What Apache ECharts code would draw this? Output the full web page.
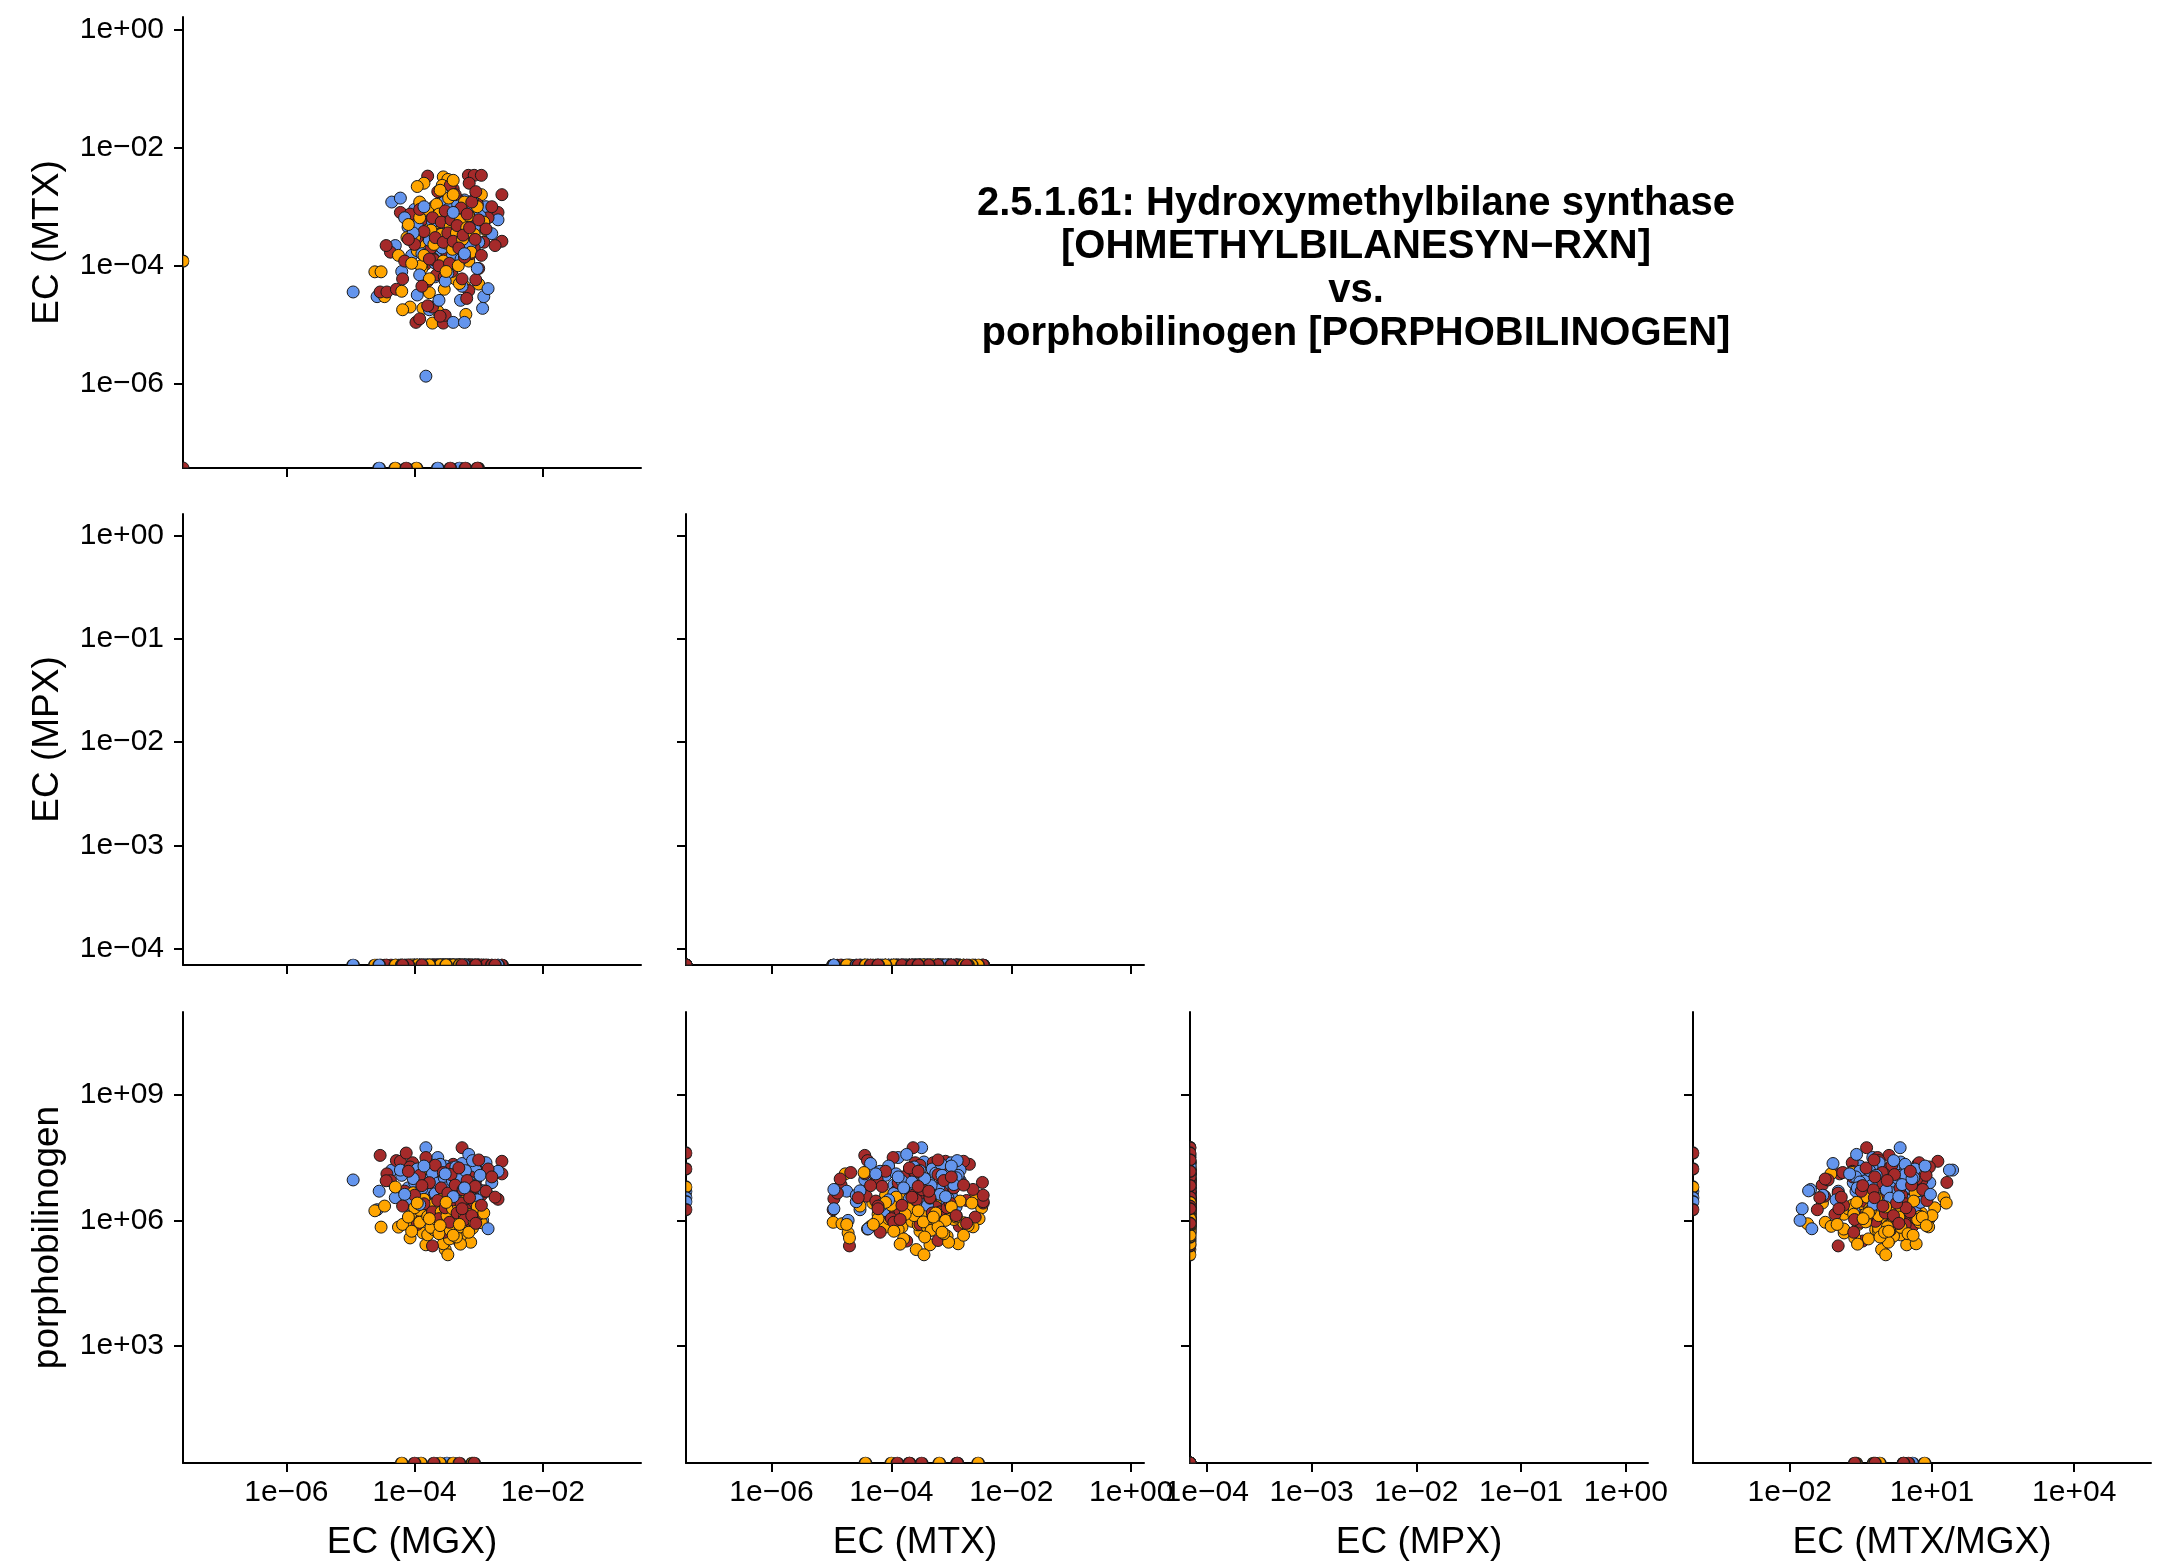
<!DOCTYPE html>
<html><head><meta charset="utf-8">
<script src="https://cdn.jsdelivr.net/npm/echarts@6/dist/echarts.min.js"></script>
<style>html,body{margin:0;padding:0;background:#fff}#c{width:2161px;height:1565px}</style>
</head><body><div id="c"></div>
<script>
// ---------- DATA (0 = zero value drawn at the panel edge, null = missing) ----------
const blueMGX = [1.1e-5,2.6e-5,4.4e-5,1.5e-4,1.5e-4,5.0e-5,6.3e-5,7.9e-5,9.0e-5,1.0e-4,1.1e-4,1.2e-4,1.3e-4,1.4e-4,1.6e-4,1.7e-4,1.8e-4,1.9e-4,2.0e-4,2.1e-4,2.2e-4,2.3e-4,2.4e-4,2.5e-4,2.6e-4,2.8e-4,3.0e-4,3.2e-4,3.4e-4,3.6e-4,3.8e-4,4.0e-4,4.2e-4,4.5e-4,4.8e-4,5.0e-4,5.5e-4,6.0e-4,6.5e-4,7.0e-4,7.5e-4,1.15e-3,9.0e-4,1.0e-3,1.3e-3,1.6e-3,2.0e-3,5.2e-4,6.0e-5,1.2e-3,1.4e-3,8.5e-5,2.7e-4,6.0e-4,2.8e-5,2.3e-4,5.0e-4,3.2e-4,
  1.1e-4,1.3e-4,1.5e-4,1.7e-4,1.9e-4,2.1e-4,2.3e-4,2.5e-4,2.7e-4,2.9e-4,3.1e-4,3.3e-4,3.5e-4,3.7e-4,3.9e-4,4.1e-4,4.4e-4,4.7e-4,5.0e-4,5.3e-4,5.7e-4,6.2e-4,6.8e-4,7.3e-4,8.0e-4,8.7e-4,9.5e-4,1.05e-3,1.2e-4,9.5e-5,7.0e-5,1.4e-4,3.0e-4,4.0e-4,6.0e-4];
const blueMTX = [3.6e-5,3.0e-5,1.2e-3,1.35e-6,3.2e-4,2.2e-4,8.0e-5,4.5e-4,1.5e-4,9.0e-4,3.2e-5,2.5e-4,6.0e-4,1.1e-4,3.5e-4,1.8e-5,7.0e-4,2.0e-4,1.0e-3,6.5e-5,4.0e-4,1.3e-4,2.6e-5,8.0e-4,1.7e-4,5.0e-4,9.0e-5,3.0e-4,1.4e-3,2.2e-4,6.0e-4,1.1e-5,3.8e-4,1.2e-4,9.5e-4,2.8e-4,4.5e-5,1.1e-5,7.5e-4,1.8e-4,4.2e-4,1.9e-5,6.5e-4,2.5e-4,1.0e-3,3.5e-4,6.0e-4,2.6e-5,1.4e-3,3.0e-5,4.1e-5,2.8e-4,1.2e-3,1.3e-3,0,0,0,1.25e-3,
  4.8e-4,1.6e-4,8.5e-4,2.7e-4,5.5e-4,1.1e-4,3.3e-4,6.8e-4,2.0e-4,1.2e-3,4.2e-4,7.5e-5,9.5e-4,3.1e-4,1.5e-4,5.8e-4,2.4e-4,1.1e-3,4.0e-4,1.3e-4,6.2e-4,3.0e-4,8.8e-4,2.2e-4,1.25e-3,4.6e-4,9.0e-5,7.0e-4,7.0e-5,3.6e-4,6.5e-4,1.0e-3,5.5e-5,8.0e-4,1.6e-4];
const blueMPX = [0,0,0,null,0,0,0,0,0,0,0,0,0,0,0,0,0,0,0,0,0,0,0,0,0,0,0,0,0,0,0,0,0,0,0,0,0,0,0,0,0,0,0,0,0,0,0,0,0,0,0,0,0,0,0,0,0,0,
  0,0,0,0,0,0,0,0,0,0,0,0,0,0,0,0,0,0,0,0,0,0,0,0,0,0,0,0,0,0,0,0,0,0,0];
const bluePBG = [9.3e6,1.8e6,1.6e7,null,5.5e7,3.5e6,1.2e7,6.0e6,2.2e6,8.0e6,4.5e6,1.4e7,3.0e6,7.0e6,2.5e7,5.0e6,1.0e7,2.0e6,4.0e6,1.5e7,8.5e6,3.2e7,2.8e6,6.2e6,1.1e7,4.8e6,2.0e7,1.2e6,9.0e6,3.6e6,1.8e7,5.5e6,2.6e6,1.3e7,7.5e6,4.2e6,2.3e7,1.9e6,6.5e6,3.8e7,9.8e6,1.0e6,1.6e7,5.0e6,2.4e7,8.0e6,1.5e7,4.0e6,1.6e7,5.1e6,6.3e5,3.0e6,2.1e6,1.2e7,5.0e6,3.5e6,2.8e6,0,
  1.7e7,5.8e6,2.7e6,9.5e6,1.35e7,4.4e6,7.8e6,2.2e7,3.3e6,1.05e7,6.0e6,1.7e6,1.25e7,2.9e6,8.8e6,4.6e6,1.9e7,7.2e6,2.3e6,1.1e7,5.4e6,1.55e7,3.4e6,8.3e6,2.7e7,6.8e6,3.1e6,1.2e7,2.4e6,1.0e7,4.2e6,2.0e7,1.3e7,3.7e6,6.0e6];

const orangeMGX = [2.8e-4,3.3e-4,1.4e-4,2.7e-4,2.4e-5,3.0e-5,3.4e-5,1.9e-4,2.3e-4,6.3e-4,1.35e-4,1.0e-3,3.0e-4,1.5e-4,2.8e-4,3.3e-4,1.2e-4,6.0e-4,5.6e-5,7.6e-5,1.0e-4,1.1e-4,1.3e-4,1.6e-4,1.8e-4,2.0e-4,2.2e-4,2.4e-4,2.6e-4,3.1e-4,3.5e-4,3.8e-4,4.0e-4,4.3e-4,4.6e-4,5.0e-4,5.5e-4,6.0e-4,7.0e-4,8.0e-4,9.0e-4,1.1e-3,1.3e-3,8.5e-5,6.5e-5,1.7e-4,2.1e-4,3.6e-4,4.8e-4,2.9e-4,1.2e-4,7.5e-4,5.2e-4,9.5e-5,5.0e-5,1.07e-4,9.8e-4,0,6.3e-5,1.26e-4,2.5e-4,4.0e-4,7.9e-4,
  1.0e-4,1.2e-4,1.4e-4,1.6e-4,1.8e-4,2.0e-4,2.2e-4,2.4e-4,2.6e-4,2.8e-4,3.0e-4,3.2e-4,3.4e-4,3.6e-4,3.9e-4,4.2e-4,4.5e-4,4.8e-4,5.2e-4,5.6e-4,6.0e-4,6.5e-4,7.0e-4,7.6e-4,8.5e-4,9.5e-4,1.2e-3,8.0e-5,9.0e-5,1.1e-4,2.5e-4,4.0e-4,1.7e-4,3.1e-4,5.0e-4];
const orangeMTX = [3.2e-3,2.9e-3,2.5e-3,2.3e-3,7.9e-5,7.9e-5,3.0e-5,1.07e-5,1.7e-5,1.5e-5,1.9e-5,4.9e-5,2.6e-4,4.4e-4,1.3e-3,3.5e-4,1.2e-3,4.5e-5,1.5e-4,3.0e-4,6.0e-4,1.8e-4,9.0e-5,3.5e-4,7.0e-4,1.3e-4,5.0e-4,2.2e-4,8.0e-5,6.5e-4,1.6e-4,1.0e-3,3.0e-4,6.0e-5,5.5e-4,2.0e-4,8.5e-4,3.8e-4,1.2e-4,6.0e-4,2.6e-4,1.6e-3,4.0e-4,2.0e-5,1.8e-5,3.5e-5,2.8e-4,1.1e-4,7.5e-4,4.0e-5,2.4e-4,9.0e-4,1.4e-4,4.2e-4,0,0,0,1.2e-4,3.7e-5,1.0e-4,6.3e-4,2.8e-3,2.0e-4,
  3.0e-4,6.5e-4,1.5e-4,9.0e-4,4.0e-4,2.3e-4,1.1e-3,7.5e-4,3.4e-4,1.2e-4,5.8e-4,2.4e-4,1.4e-3,4.6e-4,1.9e-4,8.0e-4,3.6e-4,1.0e-4,6.0e-4,2.8e-4,1.2e-3,4.4e-4,7.0e-4,1.7e-4,3.4e-4,1.0e-3,5.5e-4,5.0e-4,1.1e-4,2.2e-3,1.9e-3,1.6e-3,6.0e-5,8.0e-5,5.0e-5];
const orangeMPX = [0,0,0,0,0,0,0,0,0,0,0,0,0,0,0,0,0,0,0,0,0,0,0,0,0,0,0,0,0,0,0,0,0,0,0,0,0,0,0,0,0,0,0,0,0,0,0,0,0,0,0,0,0,0,0,0,0,null,0,0,0,0,0,
  0,0,0,0,0,0,0,0,0,0,0,0,0,0,0,0,0,0,0,0,0,0,0,0,0,0,0,0,0,0,0,0,0,0,0];
const orangePBG = [2.0e6,1.1e6,3.5e6,7.0e5,1.7e6,6.9e5,2.2e6,9.0e5,1.3e7,8.3e5,5.0e5,2.6e6,2.0e5,2.6e5,2.75e5,1.5e5,1.3e6,7.2e5,6.9e5,8.3e5,1.5e6,3.0e6,1.1e6,4.5e5,2.8e6,6.0e5,1.8e6,9.5e5,4.0e6,1.2e6,3.6e5,2.2e6,5.5e5,1.4e6,7.5e5,3.2e6,4.2e5,1.0e6,1.9e6,6.5e5,1.6e6,8.8e5,5.0e6,3.8e5,8.0e5,1.4e7,7.8e5,2.5e6,1.15e6,6.2e5,1.75e6,3.0e5,2.7e5,4.6e6,6.3e6,null,null,null,0,0,0,0,0,
  2.0e6,9.0e5,3.2e6,1.25e6,6.8e5,2.4e6,1.05e6,4.8e5,1.6e6,3.6e6,8.5e5,1.3e6,2.9e6,5.8e5,1.9e6,1.0e6,4.0e5,2.3e6,7.0e5,1.7e6,1.2e6,3.4e6,5.2e5,1.4e6,9.2e5,2.1e6,1.5e6,1.2e6,5.5e5,2.6e6,7.5e5,4.4e5,1.1e6,2.7e6,8.0e5];

const redMGX = [1.6e-4,6.9e-4,8.5e-4,1.1e-3,7.1e-4,4.0e-4,2.3e-3,2.3e-3,2.0e-3,2.9e-5,3.7e-5,4.2e-5,1.05e-4,2.8e-4,3.0e-4,1.9e-4,1.2e-4,5.2e-4,4.8e-4,3.5e-4,5.5e-4,1.5e-4,5.2e-5,6.0e-5,9.3e-5,3.6e-5,1.2e-3,9.0e-4,7.0e-4,1.6e-4,2.5e-4,7.0e-5,1.3e-4,1.8e-4,2.0e-4,2.2e-4,2.5e-4,2.7e-4,3.2e-4,3.4e-4,3.8e-4,4.2e-4,4.5e-4,5.0e-4,5.8e-4,6.2e-4,7.5e-4,8.0e-4,9.5e-4,1.0e-3,1.4e-3,1.1e-4,1.6e-4,2.9e-4,3.6e-4,6.5e-4,8.5e-5,7.4e-5,3.6e-4,6.2e-4,9.5e-4,0,1.0e-4,2.0e-4,5.0e-4,8.5e-4,
  1.0e-4,1.2e-4,1.4e-4,1.7e-4,1.9e-4,2.1e-4,2.3e-4,2.4e-4,2.6e-4,2.8e-4,3.0e-4,3.3e-4,3.5e-4,3.7e-4,4.0e-4,4.3e-4,4.6e-4,4.9e-4,5.3e-4,5.7e-4,6.0e-4,6.6e-4,7.2e-4,7.8e-4,8.8e-4,1.0e-3,1.1e-3,1.3e-3,1.6e-3,1.8e-3,8.0e-5,6.5e-5,1.3e-4,5.5e-4,9.0e-4];
const redMTX = [3.3e-3,3.4e-3,3.4e-3,3.4e-3,2.5e-3,2.0e-3,1.6e-3,2.6e-4,8.0e-4,3.6e-5,3.6e-5,1.7e-4,1.1e-5,1.07e-5,1.45e-5,2.0e-5,1.26e-5,1.8e-4,6.0e-4,1.36e-3,2.3e-4,1.07e-4,4.0e-5,8.0e-4,5.0e-4,2.2e-4,2.5e-4,5.8e-5,3.8e-5,2.1e-5,1.4e-5,1.2e-4,6.0e-4,2.0e-4,9.0e-4,7.0e-5,3.5e-4,1.3e-3,1.5e-4,4.5e-4,8.0e-5,1.0e-3,3.0e-4,1.2e-4,7.0e-4,4.0e-4,1.6e-4,5.5e-4,1.1e-3,9.0e-5,6.5e-4,3.0e-4,5.5e-5,6.5e-5,2.3e-3,2.8e-5,7.5e-4,0,0,0,0,0,3.2e-4,1.26e-4,1.26e-3,2.0e-4,
  2.3e-4,9.0e-4,3.8e-4,1.3e-4,6.5e-4,3.0e-4,1.8e-3,1.0e-4,5.5e-4,2.5e-4,8.5e-4,3.6e-4,1.1e-4,6.0e-4,2.6e-4,1.6e-3,4.8e-4,2.0e-4,9.5e-4,3.3e-4,1.4e-4,7.5e-4,4.4e-4,1.2e-3,2.8e-4,6.0e-4,1.5e-4,4.2e-4,1.0e-3,2.2e-4,2.8e-4,6.0e-5,4.5e-5,6.0e-5,1.8e-3];
const redMPX = [0,0,0,0,0,0,0,0,0,0,0,0,0,0,0,0,0,0,0,0,0,0,0,0,0,0,0,0,0,0,0,0,0,0,0,0,0,0,0,0,0,0,0,0,0,0,0,0,0,0,0,0,0,0,0,0,0,0,0,0,0,null,0,0,0,0,
  0,0,0,0,0,0,0,0,0,0,0,0,0,0,0,0,0,0,0,0,0,0,0,0,0,0,0,0,0,0,0,0,0,0,0];
const redPBG = [8.1e6,2.6e6,2.8e6,4.0e6,1.2e6,2.2e7,2.6e7,1.3e7,3.2e6,3.6e7,1.3e7,8.9e6,3.3e6,1.8e6,7.0e6,2.45e5,4.5e6,3.2e5,3.3e5,7.2e5,5.5e7,3.2e7,2.7e7,2.6e7,2.4e7,8.9e6,2.4e7,9.3e6,3.8e6,1.4e7,9.8e6,5.0e6,1.1e6,1.7e7,2.3e6,6.5e6,1.4e6,1.0e7,3.8e6,5.8e5,1.5e7,2.0e6,7.5e6,1.6e6,4.8e6,9.5e5,1.1e7,2.1e6,6.0e6,1.4e6,1.7e7,8.0e5,2.9e6,5.2e5,5.5e6,3.5e6,1.9e7,4.1e7,1.7e7,1.8e6,null,null,0,0,0,0,
  4.0e6,1.2e7,2.5e6,8.0e6,1.6e6,2.1e7,3.0e6,1.1e6,6.0e6,1.4e7,2.0e6,4.5e6,9.0e5,1.25e7,3.1e6,7.0e6,1.5e6,1.8e7,2.6e6,5.4e6,1.05e6,9.0e6,3.5e6,1.3e6,6.5e6,2.8e7,2.3e6,5.0e6,1.1e7,3.6e6,1.5e7,2.2e6,6.8e6,1.9e6,8.5e5];

// axis tick values
const ticksMGX = [1e-6, 1e-4, 1e-2];
const ticksMTX = [1e-6, 1e-4, 1e-2, 1];
const ticksMPX = [1e-4, 1e-3, 1e-2, 1e-1, 1];
const ticksPBG = [1e3, 1e6, 1e9];
const ticksRatio = [1e-2, 1e1, 1e4];
const titleLines = ['2.5.1.61: Hydroxymethylbilane synthase', '[OHMETHYLBILANESYN\u2212RXN]', 'vs.', 'porphobilinogen [PORPHOBILINOGEN]'];

// ---------- CHART ----------
const FONT = '"Liberation Sans", Arial, Helvetica, sans-serif';
const groups = [
  {color: '#6495ED', mgx: blueMGX, mtx: blueMTX, mpx: blueMPX, pbg: bluePBG},
  {color: '#FFA500', mgx: orangeMGX, mtx: orangeMTX, mpx: orangeMPX, pbg: orangePBG},
  {color: '#A52A2A', mgx: redMGX, mtx: redMTX, mpx: redMPX, pbg: redPBG}
];
const AX = {
  MGX:   {min: 2.44e-8, max: 0.340, ticks: ticksMGX, name: 'EC (MGX)'},
  MTX:   {min: 3.76e-8, max: 1.633, ticks: ticksMTX, name: 'EC (MTX)'},
  MPX:   {min: 6.92e-5, max: 1.63,  ticks: ticksMPX, name: 'EC (MPX)'},
  PBG:   {min: 1.55,    max: 9.77e10, ticks: ticksPBG, name: 'porphobilinogen'},
  RATIO: {min: 9.12e-5, max: 4.17e5, ticks: ticksRatio, name: 'EC (MTX/MGX)'}
};
const colLeft = [183, 686, 1190, 1693];
const rowTop = [17, 514, 1012];
const W = 458, H = 451;
const S = 12; // point diameter
// points at a zero value sit on the panel edge and are clipped there (half / quarter discs)
const SYM = {
  full:   {symbol: 'circle', size: [S, S], offset: [0, 0]},
  bottom: {symbol: 'path://M-1,0 A1,1 0 0,1 1,0 Z', size: [S, S / 2], offset: [0, -S / 4]},
  left:   {symbol: 'path://M0,-1 A1,1 0 0,1 0,1 Z', size: [S / 2, S], offset: [S / 4, 0]},
  corner: {symbol: 'path://M0,0 L0,-1 A1,1 0 0,1 1,0 Z', size: [S / 2, S / 2], offset: [S / 4, -S / 4]}
};
const panels = [
  {r: 0, c: 0, x: 'MGX', y: 'MTX'},
  {r: 1, c: 0, x: 'MGX', y: 'MPX'},
  {r: 1, c: 1, x: 'MTX', y: 'MPX'},
  {r: 2, c: 0, x: 'MGX', y: 'PBG'},
  {r: 2, c: 1, x: 'MTX', y: 'PBG'},
  {r: 2, c: 2, x: 'MPX', y: 'PBG'},
  {r: 2, c: 3, x: 'RATIO', y: 'PBG'}
];
function fmt(v) {
  const e = Math.round(Math.log10(v));
  const s = e < 0 ? '\u2212' : '+';
  return '1e' + s + String(Math.abs(e)).padStart(2, '0');
}
function getVal(g, key, i) {
  if (key === 'RATIO') {
    const a = g.mgx[i], b = g.mtx[i];
    if (a == null || b == null || a === 0) return null;
    return b / a;
  }
  const v = g[key.toLowerCase()][i];
  return v == null ? null : v;
}
function edge(v, key) { return v === 0 ? AX[key].min : v; }

const grid = [], xAxis = [], yAxis = [], series = [];
panels.forEach((p, k) => {
  grid.push({left: colLeft[p.c], top: rowTop[p.r], width: W, height: H, outerBoundsMode: 'none', containLabel: false});
  const showX = p.r === 2, showY = p.c === 0;
  const mk = (key, isX, show) => ({
    type: 'log', logBase: 10, gridIndex: k, min: AX[key].min, max: AX[key].max,
    name: show ? AX[key].name : '', nameLocation: 'middle', nameGap: isX ? 61 : 117,
    nameMoveOverlap: false,
    nameTextStyle: {fontFamily: FONT, fontSize: 37, color: '#000'},
    axisLine: {show: true, onZero: false, lineStyle: {color: '#000', width: 2}},
    axisTick: {show: true, length: 9, inside: false, customValues: AX[key].ticks, lineStyle: {color: '#000', width: 2}},
    minorTick: {show: false},
    axisLabel: {show: show, customValues: AX[key].ticks, formatter: fmt, fontFamily: FONT, fontSize: 30, color: '#000', margin: isX ? 15 : 19},
    splitLine: {show: false}
  });
  xAxis.push(mk(p.x, true, showX));
  yAxis.push(mk(p.y, false, showY));
  const data = [];
  const n = Math.max(...groups.map(g => g.mgx.length));
  for (let i = 0; i < n; i++) {
    groups.forEach(g => {
      if (i >= g.mgx.length) return;
      const xv = getVal(g, p.x, i), yv = getVal(g, p.y, i);
      if (xv == null || yv == null) return;
      const sym = xv === 0 && yv === 0 ? SYM.corner : xv === 0 ? SYM.left : yv === 0 ? SYM.bottom : SYM.full;
      data.push({
        value: [edge(xv, p.x), edge(yv, p.y)],
        symbol: sym.symbol, symbolSize: sym.size, symbolOffset: sym.offset, symbolKeepAspect: false,
        itemStyle: {color: g.color}
      });
    });
  }
  series.push({
    type: 'scatter', xAxisIndex: k, yAxisIndex: k, symbol: 'circle', symbolSize: S, clip: true,
    itemStyle: {borderColor: '#1a1a1a', borderWidth: 1, opacity: 1},
    emphasis: {disabled: true}, data: data
  });
});

const chart = echarts.init(document.getElementById('c'), null, {renderer: 'canvas'});
chart.setOption({
  animation: false,
  backgroundColor: '#fff',
  textStyle: {fontFamily: FONT},
  title: {
    text: titleLines.join('\n'), left: 1351, top: 177, textAlign: 'center',
    textStyle: {fontFamily: FONT, fontSize: 40, fontWeight: 'bold', color: '#000', lineHeight: 43.5}
  },
  grid, xAxis, yAxis, series
});
</script></body></html>
